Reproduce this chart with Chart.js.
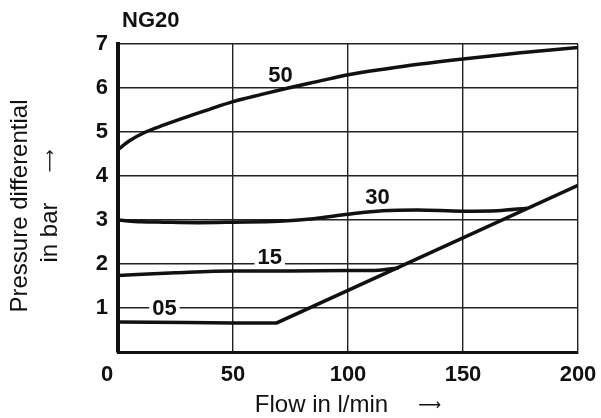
<!DOCTYPE html>
<html>
<head>
<meta charset="utf-8">
<script src="https://cdn.jsdelivr.net/npm/chart.js@4.4.1/dist/chart.umd.min.js"></script>
<style>
  html, body { margin: 0; padding: 0; background: #fff; }
  canvas { display: block; }
</style>
</head>
<body>
<canvas id="dpChart" width="601" height="418"></canvas>
<script>
// NG20 - pressure differential vs flow
const xTicks = [0, 50, 100, 150, 200];
const yTicks = [0, 1, 2, 3, 4, 5, 6, 7];

// curve "50"
const flow50 = [0, 5, 12, 20, 28, 40, 50, 62, 74, 87, 100, 125, 150, 175, 200];
const dp50 = [4.6, 4.8, 5.0, 5.16, 5.31, 5.52, 5.69, 5.85, 6.0, 6.15, 6.3, 6.5, 6.66, 6.8, 6.92];

// curve "30"
const flow30 = [0, 10, 20, 35, 50, 70, 85, 100, 115, 130, 150, 165, 178];
const dp30 = [3.0, 2.96, 2.95, 2.94, 2.95, 2.97, 3.03, 3.13, 3.21, 3.23, 3.2, 3.21, 3.27];

// curve "15"
const flow15 = [0, 25, 50, 75, 100, 110, 122];
const dp15 = [1.74, 1.8, 1.84, 1.84, 1.85, 1.85, 1.91];

// curve "05" (runs into the straight line up to 200)
const flow05 = [0, 30, 50, 69, 200];
const dp05 = [0.68, 0.67, 0.66, 0.66, 3.79];

// curve names and where they sit (flow, bar at baseline)
const curveNames = ["50", "30", "15", "05"];
const nameFlow = [70.6, 112.8, 66, 20.2];
const nameDp = [6.14, 3.36, 2.0, 0.84];
const nameMask = [false, false, true, true];

const xTitle = "Flow in l/min";
const yTitle = ["Pressure differential", "in bar"];
const ARROW = "\u27F6";

const FONT = '"Liberation Sans", Arial, Helvetica, sans-serif';
const ARROW_FONT = "16px 'DejaVu Sans'";

function curve(xs, ys, smooth) {
    return {
        data: xs.map((x, i) => ({ x: x, y: ys[i] })),
        showLine: true,
        borderColor: "#111",
        borderWidth: 3.5,
        pointRadius: 0,
        tension: 0,
        cubicInterpolationMode: smooth ? "monotone" : "default",
        fill: false,
    };
}

// curve names, axis titles, the "0" of the x axis and the NG20 header
const labelPlugin = {
    id: "curveLabels",
    afterDatasetsDraw(chart) {
        const { ctx, scales: { x, y } } = chart;
        ctx.save();
        ctx.font = "bold 22px " + FONT;
        ctx.textAlign = "center";
        ctx.textBaseline = "alphabetic";
        curveNames.forEach((name, i) => {
            const px = x.getPixelForValue(nameFlow[i]);
            const py = y.getPixelForValue(nameDp[i]);
            const w = ctx.measureText(name).width;
            if (nameMask[i]) {
                ctx.fillStyle = "#fff";
                ctx.fillRect(px - w / 2 - 3, py - 17, w + 6, 18);
            }
            ctx.fillStyle = "#111";
            ctx.fillText(name, px, py);
        });

        ctx.textBaseline = "middle";
        ctx.fillText(String(xTicks[0]), x.getPixelForValue(xTicks[0]) - 11, x.top + 10 + 22 * 1.2 / 2);

        // NG20
        ctx.font = "bold 22px " + FONT;
        ctx.textAlign = "left";
        ctx.textBaseline = "alphabetic";
        ctx.fillText("NG20", x.left + 4, 27);

        // x title with arrow
        ctx.font = "24px " + FONT;
        const tw = ctx.measureText(xTitle).width;
        const gap = 30;
        ctx.font = ARROW_FONT;
        const aw = ctx.measureText(ARROW).width;
        let sx = (x.left + x.right) / 2 - (tw + gap + aw) / 2;
        ctx.font = "24px " + FONT;
        ctx.fillText(xTitle, sx, 412);
        ctx.font = ARROW_FONT;
        ctx.fillText(ARROW, sx + tw + gap, 410);

        // y title, rotated, two lines
        ctx.save();
        ctx.rotate(-Math.PI / 2);
        const cy = 206;
        ctx.font = "24px " + FONT;
        ctx.textAlign = "center";
        ctx.fillText(yTitle[0], -cy, 27);
        const w2 = ctx.measureText(yTitle[1]).width;
        ctx.font = ARROW_FONT;
        const aw2 = ctx.measureText(ARROW).width;
        const gap2 = 30;
        const start = -cy - (w2 + gap2 + aw2) / 2;
        ctx.textAlign = "left";
        ctx.font = "24px " + FONT;
        ctx.fillText(yTitle[1], start, 57);
        ctx.font = ARROW_FONT;
        ctx.fillText(ARROW, start + w2 + gap2, 55);
        ctx.restore();

        ctx.restore();
    },
};

new Chart(document.getElementById("dpChart"), {
    type: "scatter",
    data: {
        datasets: [
            curve(flow50, dp50, true),
            curve(flow30, dp30, true),
            curve(flow15, dp15, true),
            curve(flow05, dp05, false),
        ],
    },
    options: {
        responsive: false,
        animation: false,
        devicePixelRatio: 1,
        layout: { padding: { top: 44, right: 23, left: 0, bottom: 0 } },
        plugins: {
            legend: { display: false },
            tooltip: { enabled: false },
        },
        scales: {
            x: {
                type: "linear",
                min: xTicks[0],
                max: xTicks[xTicks.length - 1],
                afterBuildTicks: (s) => { s.ticks = xTicks.map(v => ({ value: v })); },
                afterFit: (s) => { s.height = 66; s.paddingLeft = 0; s.paddingRight = 0; },
                ticks: {
                    color: "#111",
                    font: { family: FONT, size: 22, weight: "bold" },
                    padding: 10,
                    maxRotation: 0,
                    callback: (v) => (v === 0 ? "" : v),
                },
                grid: { color: "#222", lineWidth: 1.4, drawTicks: false },
                border: { color: "#111", width: 3 },
            },
            y: {
                type: "linear",
                min: yTicks[0],
                max: yTicks[yTicks.length - 1],
                afterBuildTicks: (s) => { s.ticks = yTicks.map(v => ({ value: v })); },
                afterFit: (s) => { s.width = 118; s.paddingTop = 0; s.paddingBottom = 0; },
                ticks: {
                    color: "#111",
                    font: { family: FONT, size: 22, weight: "bold" },
                    padding: 10,
                    callback: (v) => (v === 0 ? "" : v),
                },
                grid: { color: "#222", lineWidth: 1.4, drawTicks: false },
                border: { color: "#111", width: 4 },
            },
        },
    },
    plugins: [labelPlugin],
});
</script>
</body>
</html>
